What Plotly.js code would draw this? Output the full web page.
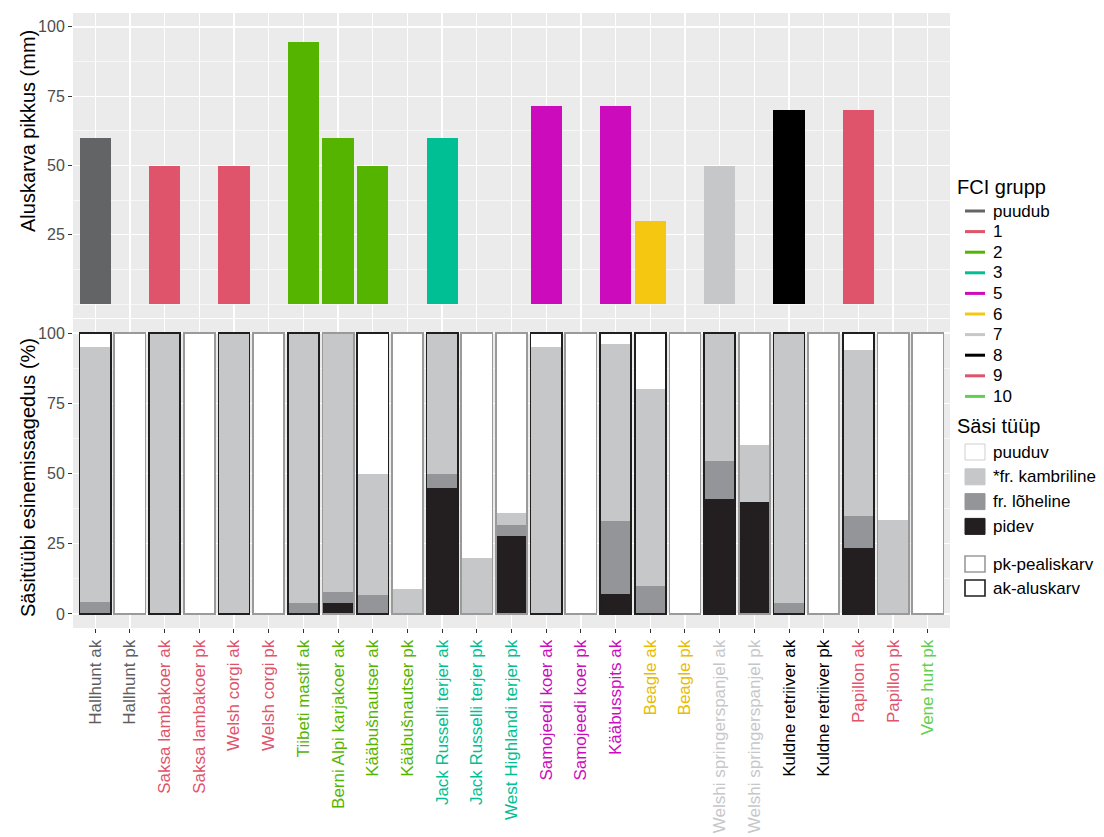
<!DOCTYPE html>
<html><head><meta charset="utf-8">
<script src="https://cdn.plot.ly/plotly-3.0.1.min.js"></script>
<style>body{margin:0;background:#fff}</style>
</head><body><div id="chart" style="width:1104px;height:837px"></div>
<script>
const categories = ['Hallhunt ak','Hallhunt pk','Saksa lambakoer ak','Saksa lambakoer pk','Welsh corgi ak','Welsh corgi pk',
  'Tiibeti mastif ak','Berni Alpi karjakoer ak','Kääbušnautser ak','Kääbušnautser pk','Jack Russelli terjer ak','Jack Russelli terjer pk',
  'West Highlandi terjer pk','Samojeedi koer ak','Samojeedi koer pk','Kääbusspits ak','Beagle ak','Beagle pk',
  'Welshi springerspanjel ak','Welshi springerspanjel pk','Kuldne retriiver ak','Kuldne retriiver pk','Papillon ak','Papillon pk','Vene hurt pk'];
const fciGroup = ['puudub','puudub','1','1','1','1','2','2','2','2','3','3','3','5','5','5','6','6','7','7','8','8','9','9','10'];
const undercoatLength = [60,null,50,null,50,null,94.5,60,50,null,60,null,null,71.5,null,71.5,30,null,50,null,70,null,70,null,null];
const pidev      = [0,0,0,0,0,0,0,3.8,0,0,44.8,0,27.8,0,0,7.2,0,0,40.8,40,0,0,23.4,0,0];
const loheline   = [4.3,0,0,0,0,0,3.8,3.9,6.9,0,5,0,4,0,0,25.9,10,0,13.6,0,3.8,0,11.6,0,0];
const kambriline = [90.9,0,100,0,100,0,96.2,92.3,43.1,8.9,50.2,20,4,95.2,0,63.1,70,0,45.6,20,96.2,0,58.8,33.3,0];
const puuduv     = [4.8,100,0,100,0,100,0,0,50,91.1,0,80,64.2,4.8,100,3.8,20,100,0,40,0,100,6.2,66.7,100];
const outlineType = ['ak','pk','ak','pk','ak','pk','ak','pk','ak','pk','ak','pk','pk','ak','pk','ak','ak','pk','ak','pk','ak','pk','ak','pk','pk'];
const groupNames = ['puudub','1','2','3','5','6','7','8','9','10'];
const groupColors = ['#636466','#DF536B','#55B400','#00BF94','#CC0BBC','#F5C710','#C6C7C9','#000000','#DF536B','#61D04F'];
const labelColors = ['#5e5e5e','#DF536B','#55B400','#00BF94','#CC0BBC','#E8BC00','#C6C7C9','#000000','#DF536B','#61D04F'];
const coatNames = ['puuduv','*fr. kambriline','fr. lõheline','pidev'];
const coatColors = ['#FFFFFF','#C6C7C9','#949598','#231F20'];
const outlineNames = ['pk-pealiskarv','ak-aluskarv'];
const outlineKeys = ['pk','ak'];
const outlineColors = {pk:'#9a9a9a', ak:'#1f1f1f'};

const colorOf = g => groupColors[groupNames.indexOf(g)];
const tickText = categories.map((c,i)=>'<span style="color:'+labelColors[groupNames.indexOf(fciGroup[i])]+'">'+c+'</span>');
const totals = categories.map((c,i)=>pidev[i]+loheline[i]+kambriline[i]+puuduv[i]);

const font = 'Liberation Sans, Arial, Helvetica, sans-serif';
const L = 73, R = 154, T = 13, B = 209, W = 1104, H = 837;
const pw = W - L - R, ph = H - T - B;
const px = v => (v - L) / pw;
const py = v => 1 - (v - T) / ph;

const traces = [];
traces.push({type:'bar', x:categories, y:undercoatLength, xaxis:'x2', yaxis:'y2', width:0.9,
  marker:{color:fciGroup.map(colorOf), line:{width:0}}, showlegend:false, hoverinfo:'x+y'});
const series = [pidev, loheline, kambriline, puuduv];
const seriesIdx = [3,2,1,0];
series.forEach((s,k)=>{
  const ci = seriesIdx[k];
  traces.push({type:'bar', x:categories, y:s, xaxis:'x', yaxis:'y', width:0.9, name:coatNames[ci],
    marker:{color:coatColors[ci], line:{width:0}}, showlegend:false});
});
traces.push({type:'bar', x:categories, y:totals, xaxis:'x', yaxis:'y3', width:0.9,
  marker:{color:'rgba(0,0,0,0)', line:{color:outlineType.map(t=>outlineColors[t]), width:1.7}},
  showlegend:false, hoverinfo:'skip'});

const shapes = [], annotations = [];
const legX = 955, keyX0 = 965, keyX1 = 985, txtX = 991;
const titleFont = {family:font, size:20, color:'#000'};
const itemFont = {family:font, size:17, color:'#000'};
annotations.push({xref:'paper', yref:'paper', x:px(legX), y:py(187), xanchor:'left', yanchor:'middle', text:'FCI grupp', showarrow:false, font:titleFont});
groupNames.forEach((g,i)=>{
  const yy = 211 + i*20.6;
  shapes.push({type:'line', xref:'paper', yref:'paper', x0:px(keyX0), x1:px(keyX1), y0:py(yy), y1:py(yy), line:{color:groupColors[i], width:3}});
  annotations.push({xref:'paper', yref:'paper', x:px(txtX), y:py(yy), xanchor:'left', yanchor:'middle', text:g, showarrow:false, font:itemFont});
});
annotations.push({xref:'paper', yref:'paper', x:px(legX), y:py(426), xanchor:'left', yanchor:'middle', text:'Säsi tüüp', showarrow:false, font:titleFont});
coatNames.forEach((n,i)=>{
  const yy = 452 + i*24.8;
  shapes.push({type:'rect', xref:'paper', yref:'paper', x0:px(keyX0), x1:px(keyX1), y0:py(yy-8), y1:py(yy+8),
    fillcolor:coatColors[i], line:{color: i===0 ? '#cfcfcf' : coatColors[i], width:1}});
  annotations.push({xref:'paper', yref:'paper', x:px(txtX), y:py(yy), xanchor:'left', yanchor:'middle', text:n, showarrow:false, font:itemFont});
});
outlineNames.forEach((n,i)=>{
  const yy = 564 + i*24;
  shapes.push({type:'rect', xref:'paper', yref:'paper', x0:px(keyX0), x1:px(keyX1), y0:py(yy-8), y1:py(yy+8),
    fillcolor:'#FFFFFF', line:{color:outlineColors[outlineKeys[i]], width:1.6}});
  annotations.push({xref:'paper', yref:'paper', x:px(txtX), y:py(yy), xanchor:'left', yanchor:'middle', text:n, showarrow:false, font:itemFont});
});
annotations.push({xref:'paper', yref:'paper', x:px(28), y:py(131), xanchor:'center', yanchor:'middle', textangle:-90,
  text:'Aluskarva pikkus (mm)', showarrow:false, font:{family:font, size:20, color:'#000'}});
annotations.push({xref:'paper', yref:'paper', x:px(28), y:py(478), xanchor:'center', yanchor:'middle', textangle:-90,
  text:'Säsitüübi esinemissagedus (%)', showarrow:false, font:{family:font, size:20, color:'#000'}});

const axisCommon = {showline:false, zeroline:false, gridcolor:'#FFFFFF', gridwidth:1.3,
  ticks:'outside', ticklen:4, tickcolor:'#333333', tickwidth:1,
  tickfont:{family:font, size:16, color:'#4d4d4d'}};
const layout = {
  width:W, height:H, paper_bgcolor:'#FFFFFF', plot_bgcolor:'#EBEBEB',
  margin:{l:L, r:R, t:T, b:B},
  barmode:'stack', bargap:0.1, font:{family:font, size:14, color:'#000'},
  showlegend:false, shapes:shapes, annotations:annotations,
  xaxis: Object.assign({}, axisCommon, {domain:[0,1], anchor:'y', type:'category', categoryorder:'array', categoryarray:categories,
    range:[-0.64,24.64], tickmode:'array', tickvals:categories, ticktext:tickText, tickangle:-90, automargin:false,
    tickfont:{family:font, size:17, color:'#4d4d4d'}}),
  xaxis2: Object.assign({}, axisCommon, {domain:[0,1], anchor:'y2', type:'category', categoryorder:'array', categoryarray:categories,
    range:[-0.64,24.64], matches:'x', showticklabels:false, ticks:'', automargin:false}),
  yaxis: Object.assign({}, axisCommon, {domain:[0,(628-319)/ph], anchor:'x', range:[-5,105], tickvals:[0,25,50,75,100],
    minor:{tickvals:[12.5,37.5,62.5,87.5], showgrid:true, gridcolor:'#FFFFFF', gridwidth:0.6, ticks:''}, automargin:false}),
  yaxis3: {overlaying:'y', range:[-5,105], visible:false, showgrid:false, zeroline:false, fixedrange:true},
  yaxis2: Object.assign({}, axisCommon, {domain:[(628-318)/ph,1], anchor:'x2', range:[-5,105], tickvals:[25,50,75,100],
    minor:{tickvals:[0,12.5,37.5,62.5,87.5], showgrid:true, gridcolor:'#FFFFFF', gridwidth:0.6, ticks:''}, automargin:false})
};
Plotly.newPlot('chart', traces, layout, {displayModeBar:false, staticPlot:true});
</script></body></html>
